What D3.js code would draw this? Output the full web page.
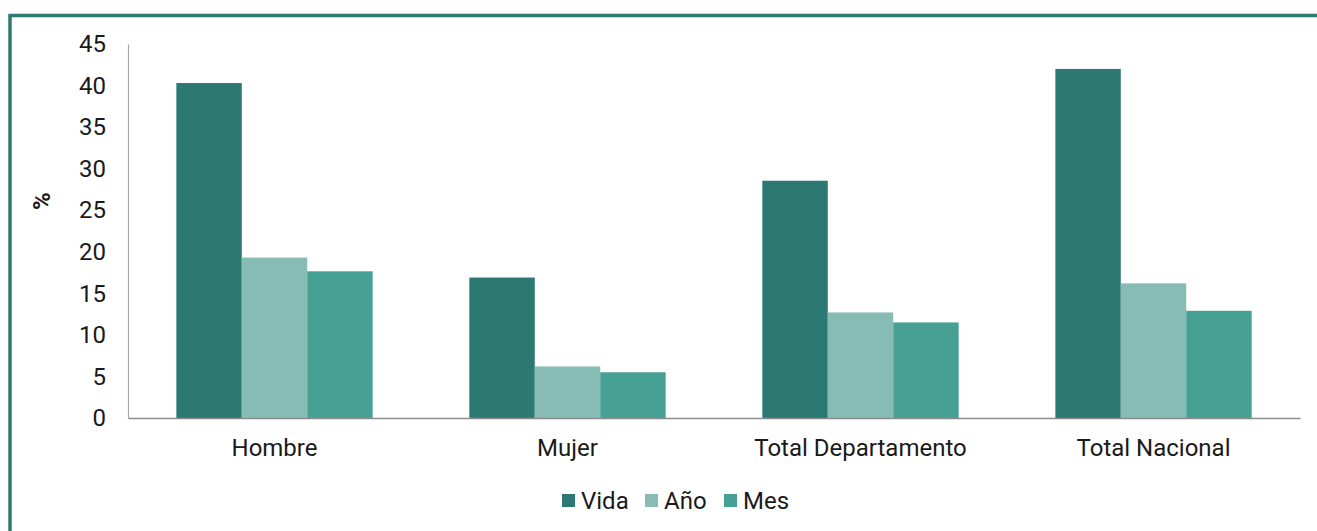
<!DOCTYPE html>
<html>
<head>
<meta charset="utf-8">
<script src="https://cdn.jsdelivr.net/npm/d3@7"></script>
<style>
  html, body { margin: 0; padding: 0; background: #fff; }
  svg { display: block; }
  svg text { font-family: Roboto, "Noto Sans", sans-serif; }
</style>
</head>
<body>
<svg id="chart" width="1317" height="531"></svg>
<script>
// Categories, series and values (%)
const categories = ["Hombre", "Mujer", "Total Departamento", "Total Nacional"];
const seriesNames = ["Vida", "Año", "Mes"];
const vida = [40.3, 16.9, 28.55, 42.0];
const anio = [19.3, 6.2, 12.7, 16.2];
const mes = [17.65, 5.5, 11.5, 12.9];
const yTicks = [0, 5, 10, 15, 20, 25, 30, 35, 40, 45];
const colors = ["#2c7873", "#86bcb3", "#46a094"];

const FONT = "Roboto, 'Noto Sans', sans-serif";
const FONT_SIZE = 24;

const seriesValues = [vida, anio, mes];
const rows = categories.map((c, i) => ({
  category: c,
  values: seriesNames.map((s, j) => ({ series: s, value: seriesValues[j][i] }))
}));

const svg = d3.select("#chart");

// Outer frame
svg.append("rect")
  .attr("x", 10).attr("y", 15.5)
  .attr("width", 1340).attr("height", 540)
  .attr("fill", "none")
  .attr("stroke", "#2e7b74")
  .attr("stroke-width", 3.5);

const plot = { left: 128, right: 1300, top: 44, bottom: 418 };

const x0 = d3.scaleBand()
  .domain(categories)
  .range([plot.left, plot.right])
  .paddingInner(0.33)
  .paddingOuter(0.165);

const x1 = d3.scaleBand()
  .domain(seriesNames)
  .range([0, x0.bandwidth()])
  .padding(0);

const y = d3.scaleLinear().domain([0, 45]).range([plot.bottom, plot.top]);
const color = d3.scaleOrdinal().domain(seriesNames).range(colors);

// Bars
const groups = svg.append("g").selectAll("g")
  .data(rows)
  .join("g")
  .attr("transform", d => `translate(${x0(d.category)},0)`);

groups.selectAll("rect")
  .data(d => d.values)
  .join("rect")
  .attr("x", d => x1(d.series))
  .attr("y", d => y(d.value))
  .attr("width", x1.bandwidth())
  .attr("height", d => y(0) - y(d.value))
  .attr("fill", d => color(d.series));

// Y axis
const yAxis = svg.append("g")
  .attr("transform", `translate(${plot.left},0)`)
  .call(d3.axisLeft(y).tickValues(yTicks).tickSize(0).tickPadding(22))
  .attr("font-family", FONT);
yAxis.select(".domain").attr("stroke", "#a6a6a6").attr("stroke-width", 1.2);
yAxis.selectAll("text").attr("font-size", FONT_SIZE).attr("font-family", FONT).attr("fill", "#1a1a1a");

// X axis
const xAxis = svg.append("g")
  .attr("transform", `translate(0,${plot.bottom})`)
  .call(d3.axisBottom(x0).tickSize(0).tickPadding(21))
  .attr("font-family", FONT);
xAxis.select(".domain").attr("stroke", "#8c8c8c").attr("stroke-width", 1.5);
xAxis.selectAll("text").attr("font-size", FONT_SIZE).attr("font-family", FONT).attr("fill", "#1a1a1a");

// Y axis title
svg.append("text")
  .attr("transform", "translate(50,201) rotate(-90)")
  .attr("text-anchor", "middle")
  .attr("font-family", FONT)
  .attr("font-size", FONT_SIZE)
  .attr("font-weight", "bold")
  .attr("fill", "#1a1a1a")
  .text("%");

// Legend
const legendX = [562, 645, 724];
const legend = svg.append("g").selectAll("g")
  .data(seriesNames)
  .join("g")
  .attr("transform", (d, i) => `translate(${legendX[i]},494)`);
legend.append("rect")
  .attr("width", 13).attr("height", 13)
  .attr("fill", d => color(d));
legend.append("text")
  .attr("x", 19).attr("y", 6.5)
  .attr("dy", "0.36em")
  .attr("font-family", FONT)
  .attr("font-size", FONT_SIZE)
  .attr("fill", "#1a1a1a")
  .text(d => d);
</script>
</body>
</html>
